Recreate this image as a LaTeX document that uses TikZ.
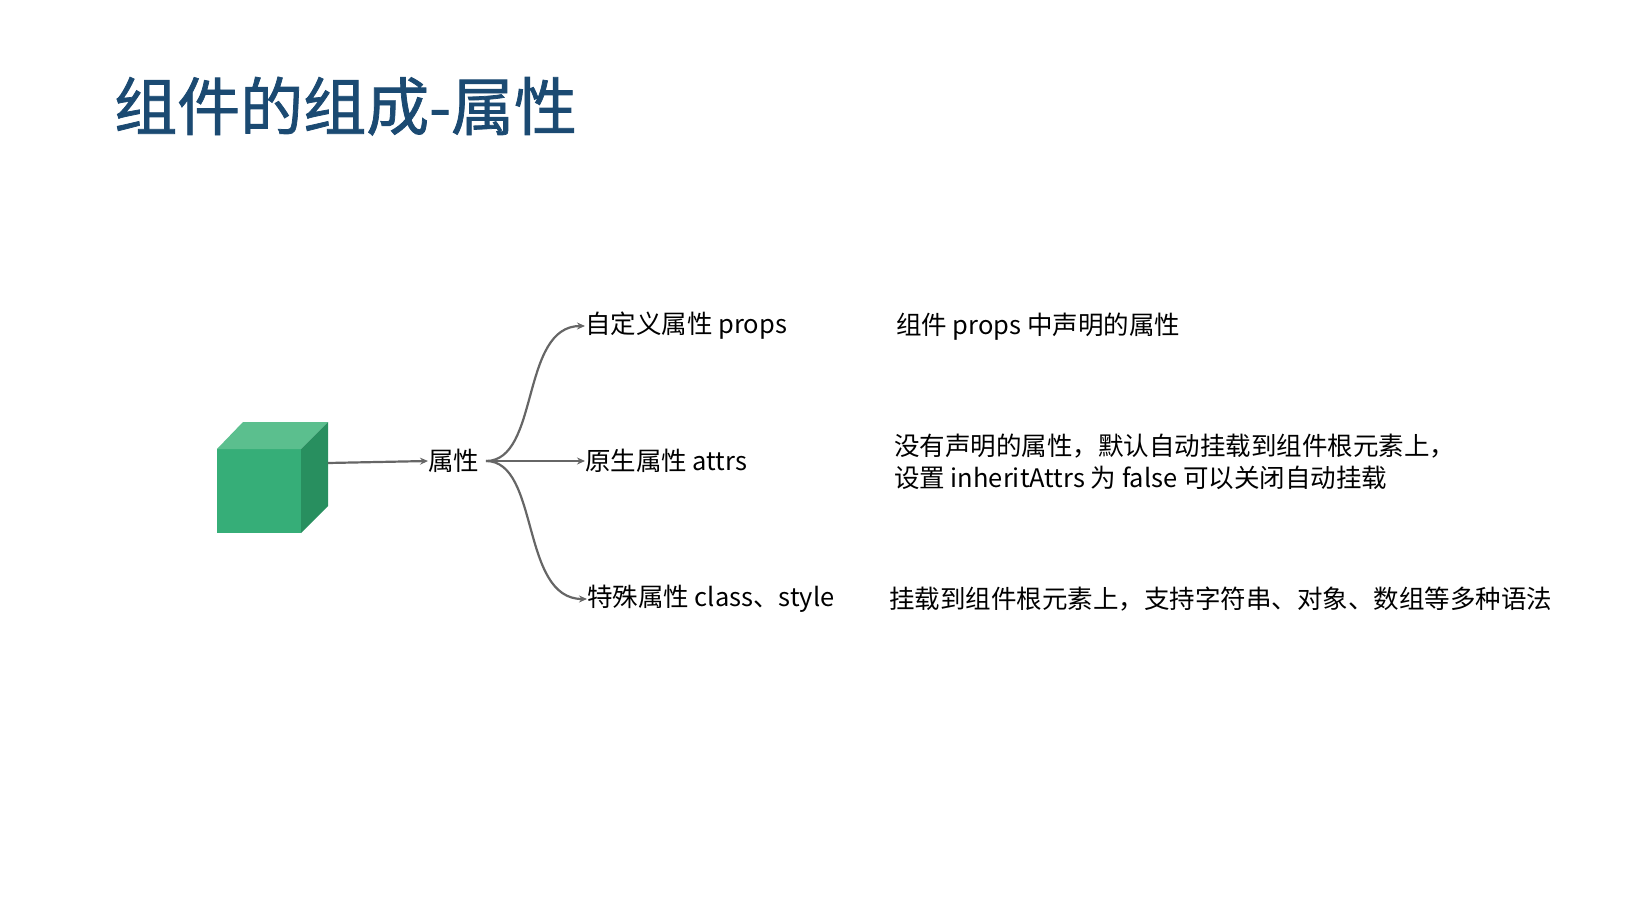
\documentclass[tikz,border=0pt]{standalone}
\usepackage{fontspec}
\setmainfont{Noto Sans CJK SC}
\newfontfamily\ttlfont[FakeBold=1.2]{Noto Sans CJK SC}
\usetikzlibrary{arrows.meta}
\definecolor{ttl}{HTML}{1B4A72}
\definecolor{cfront}{HTML}{36AE78}
\definecolor{ctop}{HTML}{5BBF8E}
\definecolor{cside}{HTML}{288F5F}
\definecolor{ln}{HTML}{666666}
\begin{document}
\begin{tikzpicture}[x=1pt,y=-1pt,
  lbl/.style={font=\fontsize{25.5}{32}\selectfont,anchor=west,inner sep=0pt},
  conn/.style={draw=ln,line width=2.2pt,-{Stealth[length=8pt,width=7pt]}}]
\useasboundingbox (0,0) rectangle (1635,920);
\node[anchor=base west,inner sep=0pt,text=ttl,font=\ttlfont\fontsize{63}{70}\selectfont] (title) at (114,130) {组件的组成-属性};
% cube
\fill[cfront] (217,449) rectangle (301,533);
\fill[ctop] (217,449) -- (243,422) -- (328,422) -- (301,449) -- cycle;
\fill[cside] (301,449) -- (328,422) -- (328,506) -- (301,533) -- cycle;
\coordinate (cube) at (328,463);
\node[lbl] (attr) at (428,461) {属性};
\coordinate (o) at (486,461);
\node[lbl] (p) at (585,326) {自定义属性 props};
\node[lbl] (a) at (585,461) {原生属性 attrs};
\node[lbl] (c) at (587,599) {特殊属性 class、style};
\draw[conn] (cube) -- (attr.west);
\draw[conn] (o) .. controls (540,461) and (520,326) .. (p.west);
\draw[conn] (o) -- (a.west);
\draw[conn] (o) .. controls (540,461) and (520,599) .. (c.west);
\node[lbl] (d1) at (896,327) {组件 props 中声明的属性};
\node[lbl,align=left] (d2) at (894,462) {没有声明的属性，默认自动挂载到组件根元素上，\\设置 inheritAttrs 为 false 可以关闭自动挂载};
\node[lbl] (d3) at (889,599) {挂载到组件根元素上，支持字符串、对象、数组等多种语法};
\end{tikzpicture}
\end{document}
